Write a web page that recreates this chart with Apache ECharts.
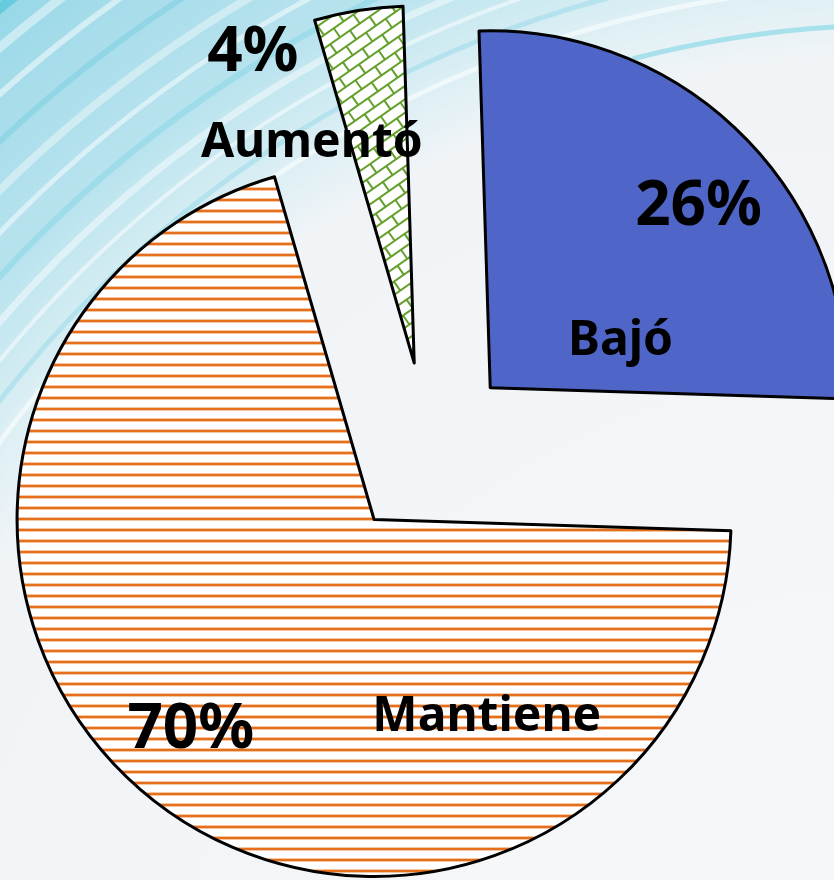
<!DOCTYPE html>
<html>
<head>
<meta charset="utf-8">
<script src="https://cdn.jsdelivr.net/npm/echarts@6/dist/echarts.min.js"></script>
<style>
  html, body { margin: 0; padding: 0; }
  #chart { width: 834px; height: 880px; }
</style>
</head>
<body>
<div id="chart"></div>
<script>
// data (clockwise from 12 o'clock)
const names = ['Bajó', 'Mantiene', 'Aumentó'];
const values = [26, 70, 4];

// label nudges from the default "inside" spot, [dx, dy]
const nameNudge = [[2, 82], [224, 54], [-74, -40]];
const pctNudge = [[80, -52], [-72, 67], [-133, -130]];

const W = 834, H = 880;
const pieCenter = [428, 450];
const radius = 357;
const explode = 88;
const startAngle = 91.8;

function stripes() {
  const c = document.createElement('canvas');
  c.width = 8; c.height = 11;
  const g = c.getContext('2d');
  g.fillStyle = '#ffffff'; g.fillRect(0, 0, 8, 11);
  g.fillStyle = '#f5c6a2'; g.fillRect(0, 0, 8, 1); g.fillRect(0, 3, 8, 1);
  g.fillStyle = '#e56f1d'; g.fillRect(0, 1, 8, 2);
  return c;
}

function bricks() {
  const c = document.createElement('canvas');
  c.width = W; c.height = H;
  const g = c.getContext('2d');
  g.fillStyle = '#ffffff'; g.fillRect(0, 0, W, H);
  g.translate(W / 2, H / 2);
  g.rotate(-35 * Math.PI / 180);
  g.strokeStyle = '#64a02c';
  g.lineWidth = 2;
  const L = 24, h = 11, ext = 900;
  g.beginPath();
  for (let k = -90; k <= 90; k++) {
    const y = k * h;
    g.moveTo(-ext, y); g.lineTo(ext, y);
    const off = (k % 2 === 0) ? 0 : L / 2;
    for (let x = -ext + off; x < ext; x += L) {
      g.moveTo(x, y); g.lineTo(x, y + h);
    }
  }
  g.stroke();
  return c;
}

const fills = ['#4f66c8', { image: stripes(), repeat: 'repeat' }, { image: bricks(), repeat: 'repeat' }];

// each slice pushed out along its own middle angle
const total = values.reduce((a, b) => a + b, 0);
let acc = 0;
const centers = values.map(v => {
  const mid = (startAngle - (acc + v / 2) / total * 360) * Math.PI / 180;
  acc += v;
  return [pieCenter[0] + Math.cos(mid) * explode, pieCenter[1] - Math.sin(mid) * explode];
});

const textStyle = { color: '#000', fontFamily: 'Noto Sans', fontWeight: 'bold' };

function sliceSeries(i, withFill) {
  return {
    type: 'pie',
    center: centers[i],
    radius: radius,
    startAngle: startAngle,
    clockwise: true,
    silent: true,
    animation: false,
    z: withFill ? 2 : 5,
    labelLine: { show: false },
    data: names.map((n, j) => ({
      name: n,
      value: values[j],
      itemStyle: (j === i && withFill)
        ? { color: fills[j], borderColor: '#000', borderWidth: 3 }
        : { color: 'rgba(0,0,0,0)', borderWidth: 0 },
      label: j === i
        ? Object.assign({
            show: true,
            position: 'inside',
            fontSize: withFill ? 48 : 62,
            formatter: withFill ? '{b}' : (p => Math.round(p.percent) + '%')
          }, textStyle)
        : { show: false }
    })),
    labelLayout: p => {
      const n = withFill ? nameNudge[i] : pctNudge[i];
      return p.dataIndex === i ? { dx: n[0], dy: n[1] } : {};
    }
  };
}

const series = [];
names.forEach((n, i) => series.push(sliceSeries(i, true)));
names.forEach((n, i) => series.push(sliceSeries(i, false)));

// soft swept background, arcs around a point far below-right
const bgC = [900, 1100];
const streaks = [
  [1115, 'rgba(255,255,255,0.55)', 5], [1140, 'rgba(120,210,228,0.35)', 5],
  [1165, 'rgba(255,255,255,0.5)', 4], [1190, 'rgba(255,255,255,0.45)', 7],
  [1220, 'rgba(110,205,225,0.35)', 6], [1250, 'rgba(255,255,255,0.5)', 5],
  [1280, 'rgba(255,255,255,0.4)', 8], [1315, 'rgba(100,200,222,0.35)', 6],
  [1350, 'rgba(255,255,255,0.5)', 6], [1385, 'rgba(255,255,255,0.45)', 9],
  [1415, 'rgba(60,195,215,0.55)', 10]
];
const graphic = [{
  type: 'rect', silent: true, z: -10,
  shape: { x: 0, y: 0, width: W, height: H },
  style: {
    fill: {
      type: 'radial', x: bgC[0], y: bgC[1], r: 1450, global: true,
      colorStops: [
        { offset: 0, color: '#f7f8fa' },
        { offset: 0.72, color: '#f1f4f7' },
        { offset: 0.77, color: '#dcEff4' },
        { offset: 0.84, color: '#b8e3ee' },
        { offset: 0.93, color: '#a6dcea' },
        { offset: 1, color: '#8fd6e6' }
      ]
    }
  }
}].concat(streaks.map(s => ({
  type: 'arc', silent: true, z: -9,
  shape: { cx: bgC[0], cy: bgC[1], r: s[0], startAngle: Math.PI, endAngle: Math.PI * 1.5, clockwise: true },
  style: { stroke: s[1], lineWidth: s[2], fill: null }
}))).concat([{
  type: 'arc', silent: true, z: -9,
  shape: { cx: bgC[0], cy: bgC[1], r: 1075, startAngle: Math.PI * 1.42, endAngle: Math.PI * 1.52, clockwise: true },
  style: { stroke: 'rgba(90,205,222,0.45)', lineWidth: 5, fill: null }
}]);

const myChart = echarts.init(document.getElementById('chart'));
const option = {
  backgroundColor: '#f3f6f8',
  graphic: graphic,
  series: series
};
option && myChart.setOption(option);
</script>
</body>
</html>
